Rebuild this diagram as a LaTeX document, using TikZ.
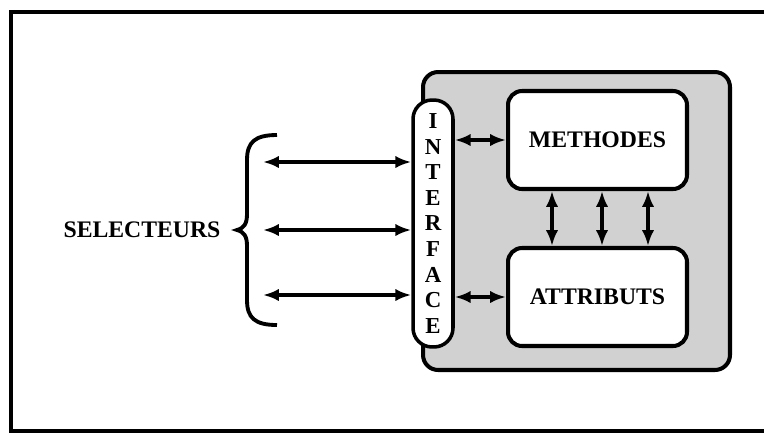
\documentclass[tikz,border=0pt]{standalone}
\usepackage{fontspec}
\setmainfont{Liberation Serif}
\usetikzlibrary{arrows.meta, calc, positioning}

\tikzset{
    cadre/.style={draw, line width=2.3pt, fill=white, rounded corners=0.28cm,
        minimum width=3.58cm, minimum height=1.96cm,
        font=\fontsize{13.5}{15}\bfseries\selectfont},
    capsule/.style={draw, line width=2pt, fill=white, rounded corners=0.38cm,
        minimum width=0.8cm, minimum height=4.94cm, inner sep=0pt, align=center,
        font=\fontsize{13}{14.6}\bfseries\selectfont},
    objet/.style={draw, line width=2.3pt, fill=black!18, rounded corners=0.3cm,
        minimum width=6.14cm, minimum height=5.96cm},
    dbl/.style={{Latex[length=9pt,width=7pt]}-{Latex[length=9pt,width=7pt]}, line width=2pt}
}

\begin{document}
\begin{tikzpicture}[x=0.02cm, y=-0.02cm]
    \useasboundingbox (0,0) rectangle (767,434);
    % cadre exterieur
    \draw[line width=2.2pt] (764,12) -- (11,12) -- (11,431) -- (764,431);

    % objet
    \node[objet] (obj) at (576.5,221) {};
    \node[cadre] (meth) at (597.5,140) {METHODES};
    \node[cadre] (attr) at (597.5,297) {ATTRIBUTS};
    \node[capsule] (iface) at (433,223.5) {I\\N\\T\\E\\R\\F\\A\\C\\E};

    % selecteurs
    \node[font=\fontsize{13.5}{15}\bfseries\selectfont] (sel) at (142,230) {SELECTEURS};
    \draw[line width=2.2pt] (277,135) .. controls (255,135) and (247,142) .. (247,160)
        -- (247,214) .. controls (247,224) and (244,228) .. (237,230)
        .. controls (244,232) and (247,236) .. (247,246)
        -- (247,300) .. controls (247,318) and (255,325) .. (277,325);

    \coordinate (s1) at (263,162);
    \coordinate (s2) at (263,230);
    \coordinate (s3) at (263,295);
    \foreach \s in {s1,s2,s3}
        \draw[dbl] (\s) -- (\s -| iface.west);

    \draw[dbl] (iface.east |- meth) -- (meth.west);
    \draw[dbl] (iface.east |- attr) -- (attr.west);

    \foreach \x in {552,602,648}
        \draw[dbl] (meth.south -| \x,0) -- (attr.north -| \x,0);
\end{tikzpicture}
\end{document}
